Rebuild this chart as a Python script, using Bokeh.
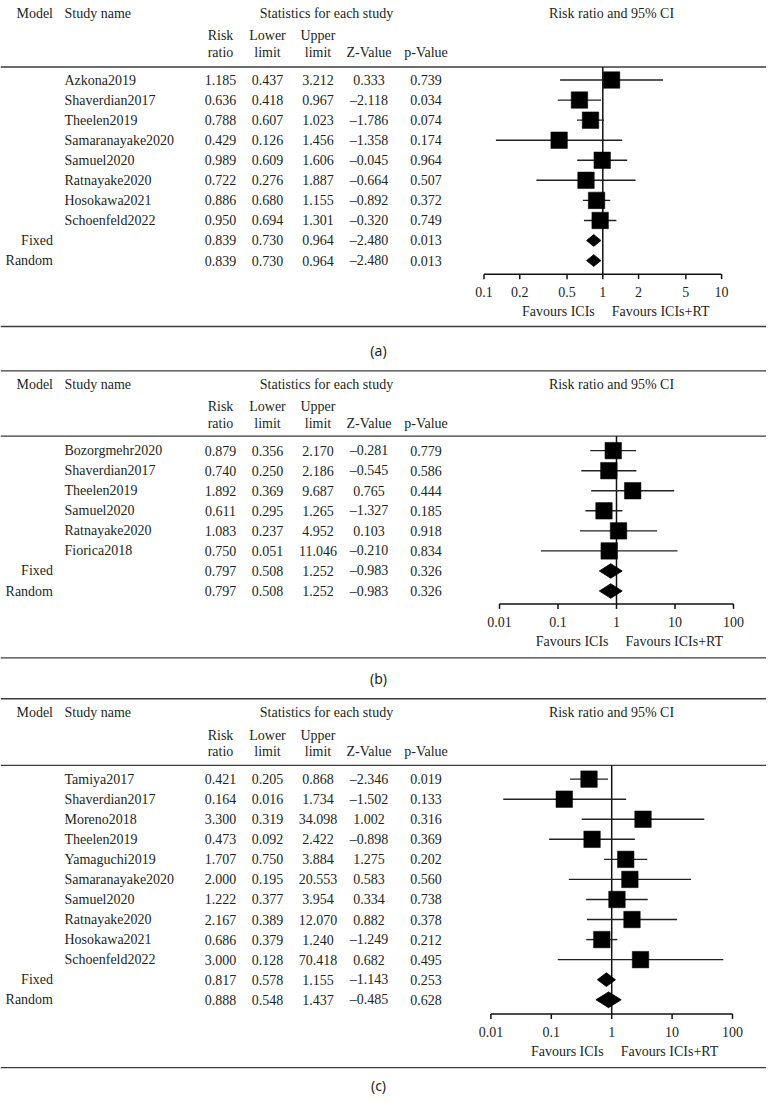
from bokeh.plotting import figure
from bokeh.models import Range1d, LogScale
from bokeh.core.properties import value
from bokeh.embed import file_html
from bokeh.resources import INLINE

# ---------------- data ----------------
a_names = ["Azkona2019", "Shaverdian2017", "Theelen2019", "Samaranayake2020",
           "Samuel2020", "Ratnayake2020", "Hosokawa2021", "Schoenfeld2022"]
a_rr = [1.185, 0.636, 0.788, 0.429, 0.989, 0.722, 0.886, 0.950]
a_lo = [0.437, 0.418, 0.607, 0.126, 0.609, 0.276, 0.680, 0.694]
a_up = [3.212, 0.967, 1.023, 1.456, 1.606, 1.887, 1.155, 1.301]
a_z = [0.333, -2.118, -1.786, -1.358, -0.045, -0.664, -0.892, -0.320]
a_p = [0.739, 0.034, 0.074, 0.174, 0.964, 0.507, 0.372, 0.749]
a_pool_rr = [0.839, 0.839]
a_pool_lo = [0.730, 0.730]
a_pool_up = [0.964, 0.964]
a_pool_z = [-2.480, -2.480]
a_pool_p = [0.013, 0.013]
a_ticks = [0.1, 0.2, 0.5, 1, 2, 5, 10]
a_tick_labels = ["0.1", "0.2", "0.5", "1", "2", "5", "10"]

b_names = ["Bozorgmehr2020", "Shaverdian2017", "Theelen2019", "Samuel2020",
           "Ratnayake2020", "Fiorica2018"]
b_rr = [0.879, 0.740, 1.892, 0.611, 1.083, 0.750]
b_lo = [0.356, 0.250, 0.369, 0.295, 0.237, 0.051]
b_up = [2.170, 2.186, 9.687, 1.265, 4.952, 11.046]
b_z = [-0.281, -0.545, 0.765, -1.327, 0.103, -0.210]
b_p = [0.779, 0.586, 0.444, 0.185, 0.918, 0.834]
b_pool_rr = [0.797, 0.797]
b_pool_lo = [0.508, 0.508]
b_pool_up = [1.252, 1.252]
b_pool_z = [-0.983, -0.983]
b_pool_p = [0.326, 0.326]
b_ticks = [0.01, 0.1, 1, 10, 100]
b_tick_labels = ["0.01", "0.1", "1", "10", "100"]

c_names = ["Tamiya2017", "Shaverdian2017", "Moreno2018", "Theelen2019",
           "Yamaguchi2019", "Samaranayake2020", "Samuel2020", "Ratnayake2020",
           "Hosokawa2021", "Schoenfeld2022"]
c_rr = [0.421, 0.164, 3.300, 0.473, 1.707, 2.000, 1.222, 2.167, 0.686, 3.000]
c_lo = [0.205, 0.016, 0.319, 0.092, 0.750, 0.195, 0.377, 0.389, 0.379, 0.128]
c_up = [0.868, 1.734, 34.098, 2.422, 3.884, 20.553, 3.954, 12.070, 1.240, 70.418]
c_z = [-2.346, -1.502, 1.002, -0.898, 1.275, 0.583, 0.334, 0.882, -1.249, 0.682]
c_p = [0.019, 0.133, 0.316, 0.369, 0.202, 0.560, 0.738, 0.378, 0.212, 0.495]
c_pool_rr = [0.817, 0.888]
c_pool_lo = [0.578, 0.548]
c_pool_up = [1.155, 1.437]
c_pool_z = [-1.143, -0.485]
c_pool_p = [0.253, 0.628]
c_ticks = [0.01, 0.1, 1, 10, 100]
c_tick_labels = ["0.01", "0.1", "1", "10", "100"]

pool_models = ["Fixed", "Random"]
captions = ["(a)", "(b)", "(c)"]
col_heads_1 = ["Risk", "Lower", "Upper"]
col_heads_2 = ["ratio", "limit", "limit", "Z-Value", "p-Value"]

# ---------------- layout (reference pixel space) ----------------
W, H = 766, 1096
REF_H = 1112
SERIF = value("Liberation Serif")
SANS = value("Noto Sans")
FS = "14px"
INK = "#231f20"
RULE = "#3c3c3c"
ROW = 20.35
COLS = [220, 267, 317.5, 368.5, 425.5]

p = figure(width=W, height=H, x_range=Range1d(0, W), y_range=Range1d(REF_H, 0),
           x_axis_location=None, y_axis_location=None, toolbar_location=None,
           output_backend="svg", min_border=0, title=None)
p.outline_line_color = None
p.grid.visible = False
p.background_fill_color = "white"
p.border_fill_color = "white"


def fmt(v):
    s = f"{abs(v):.3f}"
    return ("\u2013" + s) if v < 0 else s


panels = [
    dict(names=a_names, rr=a_rr, lo=a_lo, up=a_up, z=a_z, pv=a_p,
         prr=a_pool_rr, plo=a_pool_lo, pup=a_pool_up, pz=a_pool_z, pp=a_pool_p,
         ticks=a_ticks, tlabels=a_tick_labels,
         one_px=602.3, dec=118.8, top=None, title=12.7, h1=35.7, h2=52.8,
         hrule=67.5, y0=80.7, axis=277.7, tl=296, fav=316, bottom=330.7,
         cap=355, dh=[6.0, 6.0]),
    dict(names=b_names, rr=b_rr, lo=b_lo, up=b_up, z=b_z, pv=b_p,
         prr=b_pool_rr, plo=b_pool_lo, pup=b_pool_up, pz=b_pool_z, pp=b_pool_p,
         ticks=b_ticks, tlabels=b_tick_labels,
         one_px=616.0, dec=58.5, top=375.8, title=389.5, h1=412.3, h2=429.3,
         hrule=442.0, y0=456.7, axis=612.3, tl=630.7, fav=650, bottom=667.0,
         cap=688.3, dh=[7.4, 7.4]),
    dict(names=c_names, rr=c_rr, lo=c_lo, up=c_up, z=c_z, pv=c_p,
         prr=c_pool_rr, plo=c_pool_lo, pup=c_pool_up, pz=c_pool_z, pp=c_pool_p,
         ticks=c_ticks, tlabels=c_tick_labels,
         one_px=611.2, dec=60.4, top=708.5, title=722.7, h1=745.7, h2=762.3,
         hrule=776.0, y0=790.0, axis=1028.3, tl=1046.7, fav=1066.7, bottom=1082.7,
         cap=1101.0, dh=[7.0, 8.0]),
]

for k, P in enumerate(panels):
    rname = f"forest{k}"
    start = 10 ** ((0 - P["one_px"]) / P["dec"])
    end = 10 ** ((W - P["one_px"]) / P["dec"])
    p.extra_x_ranges[rname] = Range1d(start, end)
    p.extra_x_scales[rname] = LogScale()

    # rules
    rules = [P["hrule"], P["bottom"]] + ([P["top"]] if P["top"] else [])
    p.segment(x0=[0] * len(rules), x1=[W] * len(rules), y0=rules, y1=rules,
              line_color=RULE, line_width=1.4)

    # headers
    p.text(x=[52.5], y=[P["title"]], text=["Model"], text_align="right",
           text_baseline="middle", text_font=SERIF, text_font_size=FS, text_color=INK)
    p.text(x=[64], y=[P["title"]], text=["Study name"], text_align="left",
           text_baseline="middle", text_font=SERIF, text_font_size=FS, text_color=INK)
    p.text(x=[326], y=[P["title"]], text=["Statistics for each study"], text_align="center",
           text_baseline="middle", text_font=SERIF, text_font_size=FS, text_color=INK)
    p.text(x=[611], y=[P["title"]], text=["Risk ratio and 95% CI"], text_align="center",
           text_baseline="middle", text_font=SERIF, text_font_size=FS, text_color=INK)
    p.text(x=COLS[:3], y=[P["h1"]] * 3, text=col_heads_1, text_align="center",
           text_baseline="middle", text_font=SERIF, text_font_size=FS, text_color=INK)
    p.text(x=COLS, y=[P["h2"]] * 5, text=col_heads_2, text_align="center",
           text_baseline="middle", text_font=SERIF, text_font_size=FS, text_color=INK)

    n = len(P["names"])
    ys = [P["y0"] + i * ROW for i in range(n)]
    pys = [P["y0"] + (n + i) * ROW for i in range(2)]

    # study names & pooled model labels
    p.text(x=[64] * n, y=ys, text=P["names"], text_align="left", text_baseline="middle",
           text_font=SERIF, text_font_size=FS, text_color=INK)
    p.text(x=[52.5] * 2, y=pys, text=pool_models, text_align="right", text_baseline="middle",
           text_font=SERIF, text_font_size=FS, text_color=INK)

    # numeric columns
    allys = ys + pys
    cols = [
        [f"{v:.3f}" for v in P["rr"] + P["prr"]],
        [f"{v:.3f}" for v in P["lo"] + P["plo"]],
        [f"{v:.3f}" for v in P["up"] + P["pup"]],
        [fmt(v) for v in P["z"] + P["pz"]],
        [f"{v:.3f}" for v in P["pv"] + P["pp"]],
    ]
    for cx, vals in zip(COLS, cols):
        p.text(x=[cx] * len(vals), y=allys, text=vals, text_align="center",
               text_baseline="middle", text_font=SERIF, text_font_size=FS, text_color=INK)

    # forest: null line
    p.segment(x0=[1], x1=[1], y0=[P["hrule"]], y1=[P["axis"]], x_range_name=rname,
              line_color="#111111", line_width=1.5)
    # CI lines
    p.segment(x0=P["lo"], x1=P["up"], y0=ys, y1=ys, x_range_name=rname,
              line_color="#222222", line_width=1.4)
    # squares
    p.scatter(x=P["rr"], y=ys, marker="square", size=16.5, x_range_name=rname,
              fill_color="black", line_color="black", line_width=0.5)
    # diamonds
    dxs = [[lo, rr, up, rr] for lo, rr, up in zip(P["plo"], P["prr"], P["pup"])]
    dys = [[y, y - h, y, y + h] for y, h in zip(pys, P["dh"])]
    p.patches(xs=dxs, ys=dys, x_range_name=rname, fill_color="black",
              line_color="black", line_width=0.8)

    # axis
    t = P["ticks"]
    p.segment(x0=[t[0]], x1=[t[-1]], y0=[P["axis"]], y1=[P["axis"]], x_range_name=rname,
              line_color="#111111", line_width=1.5)
    p.segment(x0=t, x1=t, y0=[P["axis"]] * len(t), y1=[P["axis"] + 5] * len(t),
              x_range_name=rname, line_color="#111111", line_width=1.5)
    p.text(x=t, y=[P["tl"]] * len(t), text=P["tlabels"], x_range_name=rname,
           text_align="center", text_baseline="middle", text_font=SERIF,
           text_font_size=FS, text_color=INK)
    p.text(x=[1], y=[P["fav"]], text=["Favours ICIs"], x_range_name=rname, x_offset=-8,
           text_align="right", text_baseline="middle", text_font=SERIF,
           text_font_size=FS, text_color=INK)
    p.text(x=[1], y=[P["fav"]], text=["Favours ICIs+RT"], x_range_name=rname, x_offset=9,
           text_align="left", text_baseline="middle", text_font=SERIF,
           text_font_size=FS, text_color=INK)

    # caption
    p.text(x=[378], y=[P["cap"]], text=[captions[k]], text_align="center",
           text_baseline="middle", text_font=SANS, text_font_size="14px", text_color=INK)

open("out.html", "w").write(file_html(p, INLINE))
